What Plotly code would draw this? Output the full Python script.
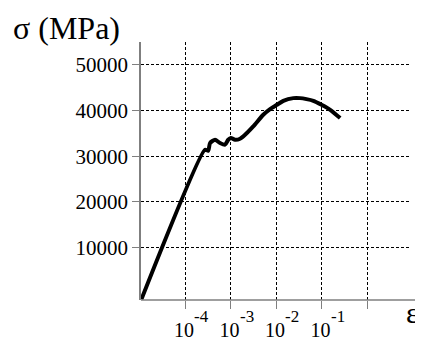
import math
import plotly.graph_objects as go

# Strain (epsilon) and stress (sigma, MPa)
strain = [1.10e-5, 2.75e-4, 3.24e-4, 3.55e-4, 4.57e-4, 5.89e-4, 7.59e-4, 8.91e-4,
          1.02e-3, 1.26e-3, 1.62e-3, 2.09e-3, 3.16e-3, 5.25e-3, 7.41e-3, 1.05e-2,
          1.45e-2, 2.40e-2, 3.39e-2, 4.68e-2, 6.61e-2, 1.0e-1, 1.55e-1, 2.57e-1]
stress = [-1300, 31440, 31220, 32900, 33620, 32900, 32530, 33620,
          34000, 33620, 33840, 34710, 36530, 39080, 40320, 41260,
          42130, 42720, 42720, 42500, 42130, 41260, 40170, 38360]

x_tickvals = [1e-4, 1e-3, 1e-2, 1e-1, 1]
x_ticktext = ["10", "10", "10", "10", ""]
x_tickexp = ["-4", "-3", "-2", "-1", ""]
y_tickvals = [10000, 20000, 30000, 40000, 50000]
y_ticktext = ["10000", "20000", "30000", "40000", "50000"]

SERIF = "Liberation Serif"
AXIS_GRAY = "#7f7f7f"
OFF = 8  # default page body margin

PL, PT, PR, PB = 141, 42, 411, 300  # plot area in page pixels
PW, PH = PR - PL, PB - PT

fig = go.Figure()
fig.add_trace(go.Scatter(
    x=strain, y=stress, mode="lines",
    line=dict(color="black", width=4, shape="spline", smoothing=0.6),
    hoverinfo="skip", showlegend=False,
))

annotations = [
    dict(text="σ (MPa)", xref="paper", yref="paper", x=(11 - PL) / PW, y=1 + (PT - 8) / PH,
         xanchor="left", yanchor="top", showarrow=False,
         font=dict(family=SERIF, size=32, color="black")),
    dict(text="ε", xref="paper", yref="paper", x=(412.5 - PL) / PW, y=-(312.5 - PB) / PH,
         xanchor="center", yanchor="middle", showarrow=False,
         font=dict(family=SERIF, size=30, color="black")),
]
for v, e in zip(x_tickvals, x_tickexp):
    if e:
        annotations.append(dict(
            text=e, xref="x", yref="paper", x=math.log10(v), y=-(316 - PB) / PH,
            xanchor="left", yanchor="middle", xshift=7, showarrow=False,
            font=dict(family=SERIF, size=17, color="black")))

fig.update_layout(
    width=423 - OFF, height=341 - OFF,
    margin=dict(l=PL - OFF, r=423 - PR, t=PT - OFF, b=341 - PB, autoexpand=False),
    paper_bgcolor="white", plot_bgcolor="white",
    font=dict(family=SERIF, color="black"),
    xaxis=dict(
        type="log", range=[-4.967, 0.967],
        tickvals=x_tickvals, ticktext=x_ticktext,
        showgrid=True, gridcolor="black", gridwidth=1, griddash="3px,2px",
        showline=False, zeroline=False,
        ticks="outside", ticklen=8, tickcolor=AXIS_GRAY, tickwidth=1,
        ticklabelstandoff=4, ticklabelshift=-1,
        tickfont=dict(family=SERIF, size=20, color="black"),
    ),
    yaxis=dict(
        range=[-1440, 55000],
        tickvals=y_tickvals, ticktext=y_ticktext,
        showgrid=True, gridcolor="black", gridwidth=1, griddash="3px,2px",
        showline=True, linecolor=AXIS_GRAY, linewidth=1.5, zeroline=False,
        ticks="outside", ticklen=7, tickcolor=AXIS_GRAY, tickwidth=1,
        tickfont=dict(family=SERIF, size=21, color="black"),
    ),
    shapes=[dict(type="line", xref="paper", yref="paper", x0=0, x1=(420 - PL) / PW, y0=0, y1=0,
                 line=dict(color=AXIS_GRAY, width=1.5), layer="above")],
    annotations=annotations,
)

fig.write_html("out.html")
